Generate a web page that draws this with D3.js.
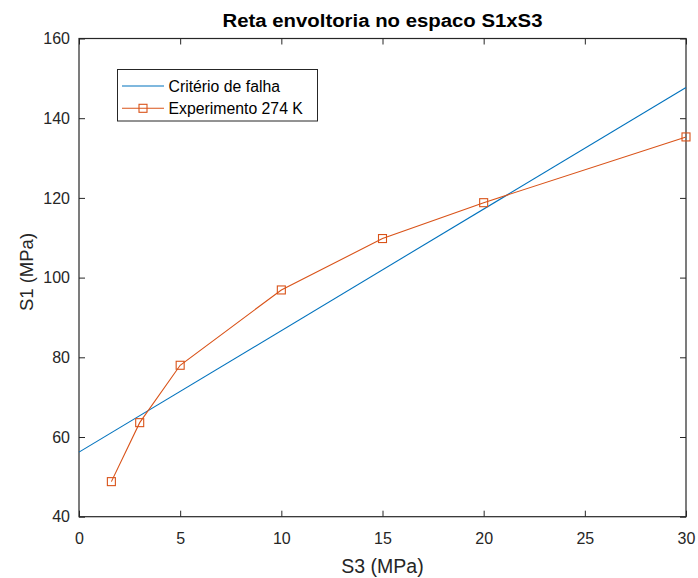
<!DOCTYPE html>
<html><head><meta charset="utf-8">
<script src="https://cdn.jsdelivr.net/npm/d3@7"></script>
<style>
html,body{margin:0;padding:0;background:#fff;}
text{font-family:"Liberation Sans",Arial,Helvetica,sans-serif;}
</style></head>
<body>
<svg id="chart" width="698" height="578"></svg>
<script>
const title = "Reta envoltoria no espaco S1xS3";
const xLabel = "S3 (MPa)";
const yLabel = "S1 (MPa)";
const seriesNames = ["Critério de falha", "Experimento 274 K"];
const criterioS3 = [0, 30];
const criterioS1 = [56.2, 147.7];
const expS3 = [1.6, 3, 5, 10, 15, 20, 30];
const expS1 = [48.8, 63.6, 78.0, 96.9, 109.8, 118.8, 135.3];
const xTicks = [0, 5, 10, 15, 20, 25, 30];
const yTicks = [40, 60, 80, 100, 120, 140, 160];
const colors = ["#0072BD", "#D95319"];

const svg = d3.select("#chart");
const L = 79, R = 686, T = 38.5, B = 516.7;
const axisColor = "#262626";
const x = d3.scaleLinear().domain([0, 30]).range([L, R]);
const y = d3.scaleLinear().domain([40, 160]).range([B, T]);

// axes box
svg.append("rect").attr("x", L).attr("y", T).attr("width", R - L).attr("height", B - T)
  .attr("fill", "none").attr("stroke", axisColor).attr("stroke-width", 1.2);

function styleAxis(g) {
  g.select(".domain").remove();
  g.selectAll(".tick line").attr("stroke", axisColor).attr("stroke-width", 1);
  g.selectAll(".tick text").attr("fill", axisColor).style("font-size", "16px")
   .style("font-family", '"Liberation Sans",Arial,sans-serif');
}
const tl = 6;
svg.append("g").attr("transform", `translate(0,${B})`)
  .call(d3.axisBottom(x).tickValues(xTicks).tickSize(-tl).tickPadding(16).tickFormat(d3.format("d")))
  .call(styleAxis);
svg.append("g").attr("transform", `translate(0,${T})`)
  .call(d3.axisTop(x).tickValues(xTicks).tickSize(-tl).tickFormat(""))
  .call(styleAxis);
svg.append("g").attr("transform", `translate(${L},0)`)
  .call(d3.axisLeft(y).tickValues(yTicks).tickSize(-tl).tickPadding(9).tickFormat(d3.format("d")))
  .call(styleAxis);
svg.append("g").attr("transform", `translate(${R},0)`)
  .call(d3.axisRight(y).tickValues(yTicks).tickSize(-tl).tickFormat(""))
  .call(styleAxis);

// lines
const line = d3.line().x(d => x(d[0])).y(d => y(d[1]));
svg.append("path").datum(criterioS3.map((v, i) => [v, criterioS1[i]]))
  .attr("d", line).attr("fill", "none").attr("stroke", colors[0]).attr("stroke-width", 1.1);
const expData = expS3.map((v, i) => [v, expS1[i]]);
svg.append("path").datum(expData)
  .attr("d", line).attr("fill", "none").attr("stroke", colors[1]).attr("stroke-width", 1.1);
const ms = 8;
svg.append("g").selectAll("rect").data(expData).join("rect")
  .attr("x", d => x(d[0]) - ms / 2).attr("y", d => y(d[1]) - ms / 2)
  .attr("width", ms).attr("height", ms)
  .attr("fill", "none").attr("stroke", colors[1]).attr("stroke-width", 1.1);

// title & labels
svg.append("text").attr("transform", `translate(${(L + R) / 2},26.5) scale(1.1,1)`)
  .attr("text-anchor", "middle").style("font-size", "18.5px").style("font-weight", "bold")
  .attr("fill", "#000").text(title);
svg.append("text").attr("transform", `translate(${(L + R) / 2},573)`)
  .attr("text-anchor", "middle").style("font-size", "19.5px").attr("fill", axisColor).text(xLabel);
svg.append("text").attr("transform", `translate(33,272) rotate(-90)`)
  .attr("text-anchor", "middle").style("font-size", "18.5px").attr("fill", axisColor).text(yLabel);

// legend
const lg = svg.append("g");
lg.append("rect").attr("x", 117.5).attr("y", 69.5).attr("width", 200).attr("height", 51.5)
  .attr("fill", "#fff").attr("stroke", axisColor).attr("stroke-width", 1);
const rows = [86, 108.3];
seriesNames.forEach((name, i) => {
  lg.append("line").attr("x1", 122).attr("x2", 164).attr("y1", rows[i]).attr("y2", rows[i])
    .attr("stroke", colors[i]).attr("stroke-width", 1.1);
  if (i === 1) {
    lg.append("rect").attr("x", 143 - ms / 2).attr("y", rows[i] - ms / 2).attr("width", ms).attr("height", ms)
      .attr("fill", "none").attr("stroke", colors[i]).attr("stroke-width", 1.1);
  }
  lg.append("text").attr("x", 168.5).attr("y", rows[i]).attr("dy", "0.35em")
    .style("font-size", "15.8px").attr("fill", "#000").text(name);
});
</script>
</body></html>
